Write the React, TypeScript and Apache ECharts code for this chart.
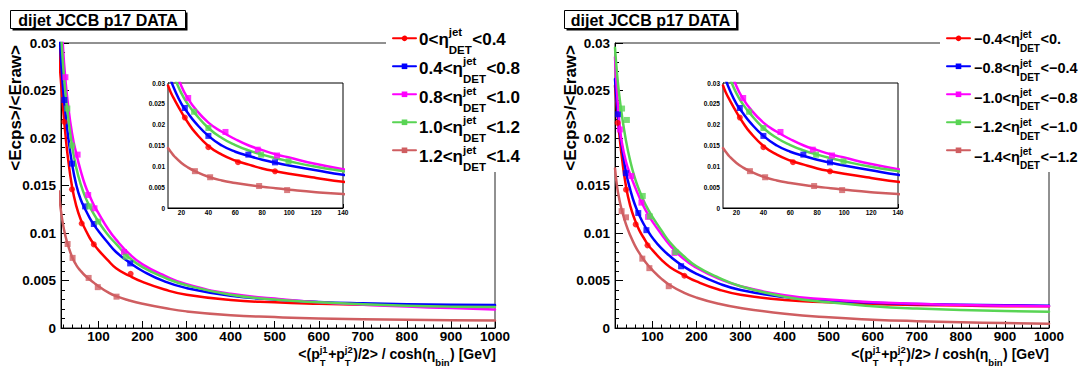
import React, { useEffect, useRef } from 'react';
import * as echarts from 'echarts';

const FONT = '"Liberation Sans", Arial, Helvetica, sans-serif';

const COLORS = ['#ff0000', '#0000ff', '#ff00ff', '#59d454', '#cf5e61'];
const SYMBOLS = ['circle', 'rect', 'rect', 'rect', 'rect'];

const TITLE = 'dijet JCCB p17 DATA';
const Y_TITLE = '<Ecps>/<Eraw>';

const LEFT_LEGEND_PRE = ['0<η', '0.4<η', '0.8<η', '1.0<η', '1.2<η'];
const LEFT_LEGEND_POST = ['<0.4', '<0.8', '<1.0', '<1.2', '<1.4'];
const RIGHT_LEGEND_PRE = ['−0.4<η', '−0.8<η', '−1.0<η', '−1.2<η', '−1.4<η'];
const RIGHT_LEGEND_POST = ['<0.', '<−0.4', '<−0.8', '<−1.0', '<−1.2'];

const MAIN_X_TICKS = [100, 200, 300, 400, 500, 600, 700, 800, 900, 1000];
const MAIN_X_MINOR = [20, 40, 60, 80, 120, 140, 160, 180, 220, 240, 260, 280, 320, 340, 360, 380, 420, 440, 460, 480, 520, 540, 560, 580, 620, 640, 660, 680, 720, 740, 760, 780, 820, 840, 860, 880, 920, 940, 960, 980];
const INSET_X_TICKS = [20, 40, 60, 80, 100, 120, 140];
const INSET_X_MINOR = [12, 16, 24, 28, 32, 36, 44, 48, 52, 56, 64, 68, 72, 76, 84, 88, 92, 96, 104, 108, 112, 116, 124, 128, 132, 136];

// ---- Left panel (0 < eta < 1.4) fitted curves ----
const CURVE_X_L = [10, 12, 15, 20, 25, 30, 40, 50, 60, 70, 80, 90, 100, 120, 140, 170, 200, 250, 300, 400, 500, 600, 700, 800, 900, 1000];
const L_RED_FIT = [0.0294, 0.0278, 0.0259, 0.0230, 0.0204, 0.0182, 0.0149, 0.0128, 0.0114, 0.0104, 0.0095, 0.0088, 0.0082, 0.0072, 0.0063, 0.0055, 0.00485, 0.00405, 0.0035, 0.00295, 0.0027, 0.00255, 0.00245, 0.0024, 0.00237, 0.00235];
const L_BLUE_FIT = [0.0330, 0.0308, 0.0283, 0.0250, 0.0227, 0.0206, 0.0173, 0.0150, 0.0135, 0.0125, 0.0116, 0.01085, 0.0102, 0.00905, 0.0080, 0.0069, 0.0060, 0.0049, 0.0042, 0.0034, 0.0030, 0.00275, 0.0026, 0.0025, 0.00245, 0.00242];
const L_MAG_FIT = [0.0420, 0.0385, 0.0340, 0.0292, 0.0262, 0.0239, 0.0205, 0.0183, 0.0165, 0.0150, 0.0139, 0.0129, 0.0121, 0.01055, 0.0093, 0.0078, 0.0067, 0.0055, 0.0046, 0.0036, 0.0031, 0.0027, 0.00245, 0.00225, 0.0021, 0.00195];
const L_GRN_FIT = [0.0380, 0.0350, 0.0313, 0.0275, 0.0248, 0.0227, 0.0192, 0.0168, 0.0151, 0.0138, 0.0128, 0.01195, 0.0112, 0.0099, 0.00885, 0.0074, 0.0064, 0.0053, 0.0045, 0.0035, 0.0030, 0.0027, 0.0025, 0.00235, 0.00225, 0.0022];
const L_SAL_FIT = [0.0144, 0.0135, 0.0123, 0.0108, 0.0097, 0.00885, 0.0075, 0.0066, 0.0060, 0.0055, 0.0051, 0.00475, 0.0044, 0.0038, 0.00335, 0.0029, 0.00255, 0.0021, 0.00175, 0.00135, 0.00115, 0.0010, 0.00092, 0.00086, 0.00082, 0.0008];

// ---- Left panel data points ----
const L_RED_PX = [22.5, 40, 62, 89.5, 173];
const L_RED_PY = [0.0217, 0.0146, 0.0110, 0.0088, 0.0057];
const L_BLUE_PX = [22.5, 40, 69.7, 89.5, 172];
const L_BLUE_PY = [0.0240, 0.0173, 0.0128, 0.01095, 0.0068];
const L_MAG_PX = [25, 52.7, 76.7, 91, 158];
const L_MAG_PY = [0.0264, 0.01825, 0.0140, 0.0126, 0.0080];
const L_GRN_PX = [29.4, 40, 79.2, 99.5, 162];
const L_GRN_PY = [0.0231, 0.0192, 0.0128, 0.0112, 0.0075];
const L_SAL_PX = [30, 41.3, 77.7, 98.5, 141];
const L_SAL_PY = [0.00884, 0.00738, 0.00527, 0.0043, 0.0033];

// ---- Right panel (-1.4 < eta < 0) fitted curves ----
const CURVE_X_R = [15, 20, 25, 30, 40, 50, 60, 70, 80, 90, 100, 120, 140, 170, 200, 250, 300, 400, 500, 600, 700, 800, 900, 1000];
const R_RED_FIT = [0.0255, 0.0227, 0.0203, 0.0182, 0.0149, 0.0128, 0.0114, 0.0103, 0.0095, 0.00875, 0.0082, 0.0072, 0.0064, 0.0056, 0.0049, 0.00405, 0.0035, 0.00295, 0.0027, 0.00252, 0.00242, 0.00236, 0.0023, 0.00228];
const R_BLUE_FIT = [0.0262, 0.0233, 0.0210, 0.0193, 0.0164, 0.0145, 0.0130, 0.0119, 0.01095, 0.0102, 0.0095, 0.0084, 0.00755, 0.0065, 0.0057, 0.0047, 0.0040, 0.00325, 0.0029, 0.00265, 0.00252, 0.00245, 0.0024, 0.00235];
const R_MAG_FIT = [0.0285, 0.0245, 0.0216, 0.0197, 0.0175, 0.0161, 0.0149, 0.0138, 0.0128, 0.01195, 0.0112, 0.0099, 0.0087, 0.0073, 0.00635, 0.0052, 0.0044, 0.00345, 0.0030, 0.0027, 0.00255, 0.00242, 0.00235, 0.0023];
const R_GRN_FIT = [0.0295, 0.0266, 0.0244, 0.0226, 0.0197, 0.0175, 0.0158, 0.0145, 0.0134, 0.0125, 0.0117, 0.0103, 0.0090, 0.0076, 0.0065, 0.0053, 0.0044, 0.0033, 0.0027, 0.0023, 0.00205, 0.0019, 0.00178, 0.0017];
const R_SAL_FIT = [0.0168, 0.0148, 0.0135, 0.0125, 0.0109, 0.0097, 0.0087, 0.0079, 0.0072, 0.0066, 0.0061, 0.0052, 0.0045, 0.00375, 0.0032, 0.00255, 0.0021, 0.0015, 0.00112, 0.00088, 0.00072, 0.00061, 0.00052, 0.00046];

// ---- Right panel data points ----
const R_RED_PX = [21, 40, 62, 88.7, 172.5];
const R_RED_PY = [0.0216, 0.01456, 0.0109, 0.0087, 0.0055];
const R_BLUE_PX = [21.7, 39.6, 67.8, 86.3, 165];
const R_BLUE_PY = [0.0225, 0.0163, 0.0121, 0.0103, 0.0065];
const R_MAG_PX = [26, 52, 75, 90, 150];
const R_MAG_PY = [0.0209, 0.0160, 0.0132, 0.0117, 0.0079];
const R_GRN_PX = [31, 42, 78, 94, 152];
const R_GRN_PY = [0.0231, 0.0219, 0.0139, 0.01175, 0.0080];
const R_SAL_PX = [30, 40, 77, 93, 137];
const R_SAL_PY = [0.0123, 0.01165, 0.0073, 0.0063, 0.0044];

const LEFT_FITS = [L_RED_FIT, L_BLUE_FIT, L_MAG_FIT, L_GRN_FIT, L_SAL_FIT];
const LEFT_PX = [L_RED_PX, L_BLUE_PX, L_MAG_PX, L_GRN_PX, L_SAL_PX];
const LEFT_PY = [L_RED_PY, L_BLUE_PY, L_MAG_PY, L_GRN_PY, L_SAL_PY];
const RIGHT_FITS = [R_RED_FIT, R_BLUE_FIT, R_MAG_FIT, R_GRN_FIT, R_SAL_FIT];
const RIGHT_PX = [R_RED_PX, R_BLUE_PX, R_MAG_PX, R_GRN_PX, R_SAL_PX];
const RIGHT_PY = [R_RED_PY, R_BLUE_PY, R_MAG_PY, R_GRN_PY, R_SAL_PY];

const pairs = (xs: number[], ys: number[]) => xs.map((x, i) => [x, ys[i]]);

let measureCtx: CanvasRenderingContext2D | null = null;
function measure(t: string, font: string): number {
  if (!measureCtx) measureCtx = document.createElement('canvas').getContext('2d');
  if (!measureCtx) return t.length * 8;
  measureCtx.font = font;
  return measureCtx.measureText(t).width;
}

function txt(text: string, x: number, y: number, font: string, align = 'left') {
  return {
    type: 'text', x, y, z: 100,
    style: { text, font, fill: '#000', textAlign: align, textVerticalAlign: 'middle', align, verticalAlign: 'middle' },
  };
}

type Seg = { t?: string; sup?: string; sub?: string };
function buildLatex(segs: Seg[], x0: number, cy: number, main: number, small: number, supDy: number, subDy: number, alignRight: boolean) {
  const mf = `bold ${main}px ${FONT}`;
  const sf = `bold ${small}px ${FONT}`;
  const widths = segs.map((s) =>
    s.t !== undefined ? measure(s.t, mf) : Math.max(s.sup ? measure(s.sup, sf) : 0, s.sub ? measure(s.sub, sf) : 0) + 0.5
  );
  const total = widths.reduce((a, b) => a + b, 0);
  let x = alignRight ? x0 - total : x0;
  const els: any[] = [];
  segs.forEach((s, i) => {
    if (s.t !== undefined) els.push(txt(s.t, x, cy, mf));
    else {
      if (s.sup) els.push(txt(s.sup, x, cy + supDy, sf));
      if (s.sub) els.push(txt(s.sub, x, cy + subDy, sf));
    }
    x += widths[i];
  });
  return els;
}

const LEGEND_ROWS = [39, 68.4, 97.8, 127.2, 156.6];

function majorX(grid: number, min: number, max: number, ticks: number[], fontSize: number, tickLen: number, margin: number) {
  return {
    type: 'value', gridIndex: grid, min, max, position: 'bottom',
    axisLine: { show: true, onZero: false, lineStyle: { color: '#000', width: 1 } },
    axisTick: { show: true, inside: true, length: tickLen, customValues: ticks, lineStyle: { color: '#000', width: 1 } },
    axisLabel: {
      show: true, customValues: ticks, fontFamily: FONT, fontWeight: 'bold', fontSize, color: '#000', margin, hideOverlap: false,
      formatter: (v: number) => String(v),
    },
    splitLine: { show: false },
    minorTick: { show: false },
  };
}
function minorX(grid: number, min: number, max: number, ticks: number[], tickLen: number) {
  return {
    type: 'value', gridIndex: grid, min, max, position: 'bottom',
    axisLine: { show: false },
    axisTick: { show: true, inside: true, length: tickLen, customValues: ticks, lineStyle: { color: '#000', width: 1 } },
    axisLabel: { show: false },
    splitLine: { show: false },
  };
}
function yAx(grid: number, fontSize: number, tickLen: number, minorLen: number, margin: number) {
  return {
    type: 'value', gridIndex: grid, min: 0, max: 0.03, interval: 0.005, position: 'left',
    axisLine: { show: true, onZero: false, lineStyle: { color: '#000', width: 1 } },
    axisTick: { show: true, inside: true, length: tickLen, lineStyle: { color: '#000', width: 1 } },
    minorTick: { show: true, splitNumber: 5, length: minorLen, lineStyle: { color: '#000', width: 1 } },
    axisLabel: {
      fontFamily: FONT, fontWeight: 'bold', fontSize, color: '#000', margin,
      formatter: (v: number) => String(parseFloat(v.toFixed(4))),
    },
    splitLine: { show: false },
    minorSplitLine: { show: false },
  };
}

export default function App() {
  const ref = useRef<HTMLDivElement>(null);
  useEffect(() => {
    if (!ref.current) return;
    const chart = echarts.init(ref.current, undefined, { renderer: 'svg' });

    const series: any[] = [];
    const addPanel = (fits: number[][], curveX: number[], pxs: number[][], pys: number[][], xIdx: number, yIdx: number, prefix: string, lw: number, ms: number) => {
      for (let i = 0; i < 5; i++) {
        series.push({
          name: prefix + i, type: 'line', xAxisIndex: xIdx, yAxisIndex: yIdx,
          data: pairs(curveX, fits[i]), smooth: 0.5,
          showSymbol: false, symbol: SYMBOLS[i], clip: true, silent: true, z: 3,
          lineStyle: { color: COLORS[i], width: lw, cap: 'round', join: 'round' }, itemStyle: { color: COLORS[i] },
        });
      }
      for (let i = 0; i < 5; i++) {
        series.push({
          name: prefix + 'p' + i, type: 'scatter', xAxisIndex: xIdx, yAxisIndex: yIdx,
          data: pairs(pxs[i], pys[i]), symbol: SYMBOLS[i], symbolSize: ms, clip: true, silent: true, z: 4,
          itemStyle: { color: COLORS[i] },
        });
      }
    };
    addPanel(LEFT_FITS, CURVE_X_L, LEFT_PX, LEFT_PY, 0, 0, 'L', 2.5, 6);
    addPanel(RIGHT_FITS, CURVE_X_R, RIGHT_PX, RIGHT_PY, 2, 1, 'R', 2.5, 6);
    addPanel(LEFT_FITS, CURVE_X_L, LEFT_PX, LEFT_PY, 4, 2, 'IL', 2.5, 6);
    addPanel(LEFT_FITS, CURVE_X_L, LEFT_PX, LEFT_PY, 6, 3, 'IR', 2.5, 6);

    const graphics: any[] = [];
    const titleBox = (x: number, y: number, w: number, h: number) => {
      graphics.push({ type: 'rect', z: 90, shape: { x: x + 2, y: y + 2, width: w, height: h }, style: { fill: '#000' } });
      graphics.push({ type: 'rect', z: 91, shape: { x, y, width: w, height: h }, style: { fill: '#fff', stroke: '#000', lineWidth: 1 } });
      graphics.push(txt(TITLE, x + w / 2, y + h / 2 + 0.5, `bold 16px ${FONT}`, 'center'));
    };
    titleBox(10.5, 10.5, 175, 18);
    titleBox(564.5, 10.5, 172, 18);

    // white legend panes covering the frame corner
    graphics.push({ type: 'rect', z: 50, shape: { x: 386, y: 28, width: 160, height: 144 }, style: { fill: '#fff' } });
    graphics.push({ type: 'rect', z: 50, shape: { x: 940, y: 28, width: 151, height: 144 }, style: { fill: '#fff' } });

    // y titles
    [15, 570].forEach((x) => {
      graphics.push({
        type: 'text', x, y: 45, rotation: Math.PI / 2, z: 100,
        style: { text: Y_TITLE, font: `bold 17px ${FONT}`, fill: '#000', textAlign: 'right', textVerticalAlign: 'middle', align: 'right', verticalAlign: 'middle' },
      });
    });

    // x titles
    const xTitle: Seg[] = [
      { t: '<(p' }, { sup: 'j1', sub: 'T' }, { t: '+p' }, { sup: 'j2', sub: 'T' },
      { t: ')/2> / cosh(η' }, { sub: 'bin' }, { t: ') [GeV]' },
    ];
    graphics.push(...buildLatex(xTitle, 496, 354, 14, 9.5, -5, 8.5, true));
    graphics.push(...buildLatex(xTitle, 1049, 354, 14, 9.5, -5, 8.5, true));

    // legend texts
    LEGEND_ROWS.forEach((cy, i) => {
      graphics.push(...buildLatex(
        [{ t: LEFT_LEGEND_PRE[i] }, { sup: 'jet', sub: 'DET' }, { t: LEFT_LEGEND_POST[i] }],
        419, cy, 17, 11.5, -7, 10.5, false));
      graphics.push(...buildLatex(
        [{ t: RIGHT_LEGEND_PRE[i] }, { sup: 'jet', sub: 'DET' }, { t: RIGHT_LEGEND_POST[i] }],
        974, cy, 14.5, 10, -5, 9, false));
    });

    const legendCommon = {
      orient: 'vertical', itemWidth: 23, itemHeight: 7, itemGap: 22.4, padding: 0,
      formatter: () => '', selectedMode: false, z: 120,
      textStyle: { fontSize: 1, lineHeight: 1 },
    };

    chart.setOption({
      animation: false,
      textStyle: { fontFamily: FONT },
      grid: [
        { left: 61, top: 43, width: 434, height: 285, show: true, borderColor: '#222', borderWidth: 1, backgroundColor: 'transparent', containLabel: false, outerBoundsMode: 'none' },
        { left: 615, top: 43, width: 434, height: 285, show: true, borderColor: '#222', borderWidth: 1, backgroundColor: 'transparent', containLabel: false, outerBoundsMode: 'none' },
        { left: 168, top: 83, width: 175, height: 125, show: true, borderColor: '#000', borderWidth: 1, backgroundColor: '#fff', containLabel: false, outerBoundsMode: 'none', z: 1 },
        { left: 723, top: 83, width: 175, height: 125, show: true, borderColor: '#000', borderWidth: 1, backgroundColor: '#fff', containLabel: false, outerBoundsMode: 'none', z: 1 },
      ],
      xAxis: [
        majorX(0, 15, 1000, MAIN_X_TICKS, 13.5, 7, 1),
        minorX(0, 15, 1000, MAIN_X_MINOR, 3.5),
        majorX(1, 15, 1000, MAIN_X_TICKS, 13.5, 7, 1),
        minorX(1, 15, 1000, MAIN_X_MINOR, 3.5),
        majorX(2, 10, 140, INSET_X_TICKS, 6.5, 4, 1),
        minorX(2, 10, 140, INSET_X_MINOR, 2),
        majorX(3, 10, 140, INSET_X_TICKS, 6.5, 4, 1),
        minorX(3, 10, 140, INSET_X_MINOR, 2),
      ],
      yAxis: [yAx(0, 13.5, 8, 4, 5), yAx(1, 13.5, 8, 4, 5), yAx(2, 6.5, 4, 2, 3), yAx(3, 6.5, 4, 2, 3)],
      legend: [
        { ...legendCommon, left: 392, top: 35.5, data: ['L0', 'L1', 'L2', 'L3', 'L4'] },
        { ...legendCommon, left: 946, top: 35.5, data: ['R0', 'R1', 'R2', 'R3', 'R4'] },
      ],
      graphic: { elements: graphics },
      series,
    });
    return () => chart.dispose();
  }, []);
  return <div ref={ref} style={{ position: 'absolute', left: 0, top: 0, width: 1091, height: 367 }} />;
}
